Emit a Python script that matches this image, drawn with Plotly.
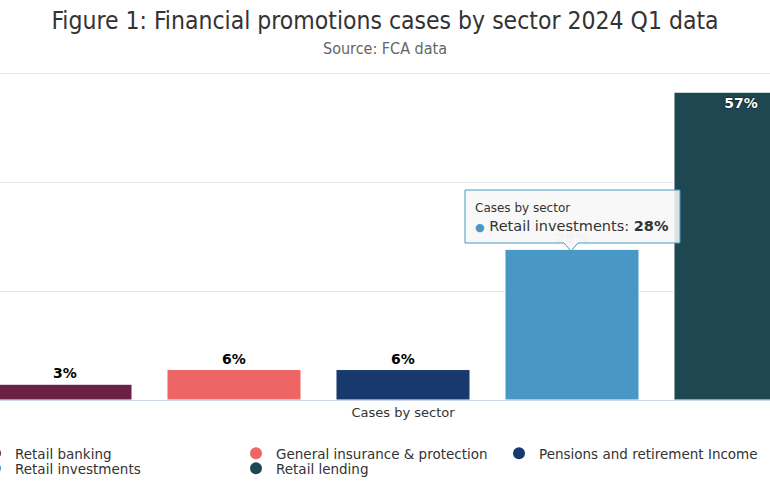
import plotly.graph_objects as go

# ---- data ----
category = ["Cases by sector"]
sectors = ["Retail banking", "General insurance & protection",
           "Pensions and retirement Income", "Retail investments", "Retail lending"]
shares = [2.9, 5.6, 5.6, 27.7, 56.6]
colors = ["#6b2146", "#ee6565", "#18396e", "#4897c5", "#1f4751"]
y_ticks = [0, 20, 40, 60]

W, H = 770, 482
ML, MR, MT, MB = 0, 0, 71, 82
PW, PH = W - ML - MR, H - MT - MB


def px_x(x):
    return (x - ML) / PW


def px_y(y):
    return (H - MB - y) / PH


# legend layout: three columns, two rows (pixel slots)
leg_slots = [(-25, 438), (236, 438), (499, 438), (-25, 453), (236, 453)]
leg_ids = ["legend", "legend2", "legend3", "legend4", "legend5"]

fig = go.Figure()
for i, (name, val, col) in enumerate(zip(sectors, shares, colors)):
    inside = i == 4
    hovered = i == 3
    fig.add_trace(go.Bar(
        x=category, y=[val], name=name, showlegend=False, legendgroup=name,
        marker=dict(color=col, line=dict(color="white", width=1)),
        texttemplate="%{y:.0f}%",
        textposition="inside" if inside else "outside",
        insidetextanchor="end",
        cliponaxis=False,
        textangle=0,
        textfont=dict(family="DejaVu Sans", size=14, weight="bold",
                      color="white" if inside else ("#c8c8c8" if hovered else "#000000"),
                      shadow="0px 0px 2px #000000" if inside else "none"),
        hoverinfo="skip",
    ))
    # circle legend entry
    fig.add_trace(go.Scatter(
        x=[None], y=[None], mode="markers", name=name, legendgroup=name,
        legend=leg_ids[i], marker=dict(color=col, size=13, symbol="circle"),
        hoverinfo="skip",
    ))

leg_font = dict(family="DejaVu Sans", size=13.5, color="#333333")
leg_common = dict(orientation="v", xref="paper", yref="paper",
                  xanchor="left", yanchor="top", font=leg_font,
                  bgcolor="rgba(0,0,0,0)", tracegroupgap=0, traceorder="normal",
                  itemsizing="constant")
legends = {lid: dict(x=px_x(sx), y=px_y(sy), **leg_common)
           for lid, (sx, sy) in zip(leg_ids, leg_slots)}

fig.update_layout(
    width=W, height=H,
    margin=dict(l=ML, r=MR, t=MT, b=MB, autoexpand=False),
    paper_bgcolor="white", plot_bgcolor="white",
    barmode="group", bargap=0.1, bargroupgap=0.207,
    font=dict(family="DejaVu Sans", color="#333333"),
    title=dict(text="Figure 1: Financial promotions cases by sector 2024 Q1 data",
               x=0.5, xanchor="center", xref="container", yref="container",
               y=1 - 20 / H, yanchor="middle",
               font=dict(family="DejaVu Sans Condensed", size=24.5, color="#333333")),
    showlegend=True,
    xaxis=dict(type="category", range=[-403 / 938.9, 367 / 938.9],
               showline=True, linecolor="#ccd6eb", linewidth=1,
               ticks="", showgrid=False,
               tickfont=dict(family="DejaVu Sans", size=13, color="#333333")),
    yaxis=dict(range=[0, 60.5], tickvals=y_ticks, showticklabels=False,
               showgrid=True, gridcolor="#e6e6e6", gridwidth=1,
               zeroline=False, showline=False),
    **legends,
)

# subtitle
fig.add_annotation(text="Source: FCA data", xref="paper", yref="paper",
                   x=0.5, y=px_y(49), xanchor="center", yanchor="middle",
                   showarrow=False,
                   font=dict(family="DejaVu Sans Condensed", size=16, color="#666666"))

# tooltip (hover state shown in reference)
bx0, bx1, by0, by1 = 465, 680, 190, 243
tipx, tipy = 571, 251
path = (f"M {px_x(bx0)},{px_y(by0)} L {px_x(bx1)},{px_y(by0)} "
        f"L {px_x(bx1)},{px_y(by1)} L {px_x(tipx + 7)},{px_y(by1)} "
        f"L {px_x(tipx)},{px_y(tipy)} L {px_x(tipx - 7)},{px_y(by1)} "
        f"L {px_x(bx0)},{px_y(by1)} Z")
fig.add_shape(type="path", path=path, xref="paper", yref="paper",
              fillcolor="rgba(247,247,247,0.88)", line=dict(color="#4897c5", width=1),
              layer="above")
fig.add_annotation(
    text=("<span style='font-size:12px'>Cases by sector</span><br>"
          "<span style='color:#4897c5;font-size:11px'>●</span> Retail investments: <b>28%</b>"),
    xref="paper", yref="paper", x=px_x(bx0 + 8), y=px_y((by0 + by1) / 2 + 1),
    xanchor="left", yanchor="middle", align="left", showarrow=False,
    font=dict(family="DejaVu Sans", size=14.5, color="#333333"))

fig.write_html("out.html", config={"displayModeBar": False},
               post_script="document.body.style.margin='0';document.body.style.padding='0';")
